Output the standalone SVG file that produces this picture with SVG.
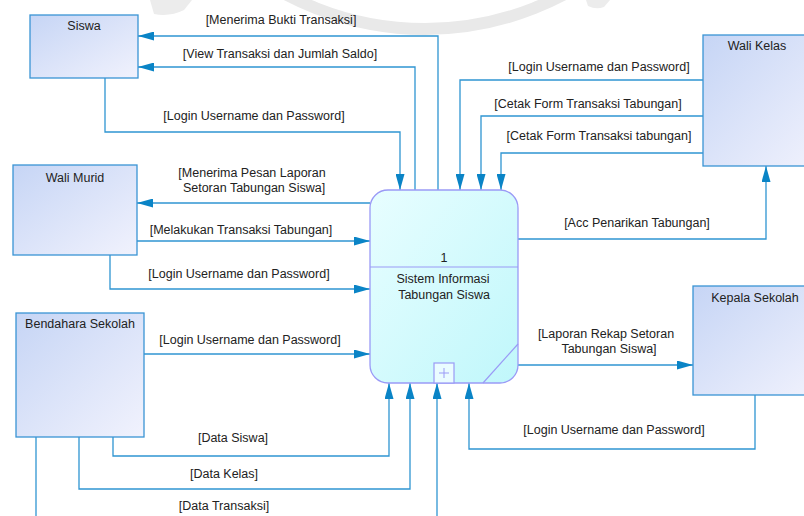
<svg xmlns="http://www.w3.org/2000/svg" width="804" height="516" viewBox="0 0 804 516">
  <defs>
    <linearGradient id="entityFill" x1="0" y1="0" x2="1" y2="1">
      <stop offset="0" stop-color="#c6d5f5"/>
      <stop offset="1" stop-color="#f1f2fd"/>
    </linearGradient>
    <linearGradient id="processFill" x1="0" y1="0" x2="1" y2="1">
      <stop offset="0" stop-color="#e8feff"/>
      <stop offset="1" stop-color="#c0f7fb"/>
    </linearGradient>
    <marker id="arrow" markerUnits="userSpaceOnUse" markerWidth="16" markerHeight="9" refX="16" refY="4.5" orient="auto">
      <path d="M0,0 L16,4.5 L0,9 Z" fill="#0a84c6"/>
    </marker>
  </defs>
  <style>
    text { font-family: "Liberation Sans", Arial, sans-serif; font-size: 12.5px; fill: #222; }
    .entity { fill: url(#entityFill); stroke: #3a94d4; stroke-width: 1.3; }
    .process { fill: url(#processFill); stroke: #9a9af6; stroke-width: 1.3; }
    .flow { fill: none; stroke: #2f95d2; stroke-width: 1.3; }
    .arrowed { marker-end: url(#arrow); }
    .mid { text-anchor: middle; }
    .seal { fill: none; stroke: #e9e9e9; }
  </style>

  <rect width="804" height="516" fill="#ffffff"/>

  <!-- faint background seal -->
  <g id="seal">
    <circle class="seal" cx="425" cy="-267" r="296" stroke-width="12"/>
    <path d="M150,0 H192 L184,10 Q170,17 154,14 Z" fill="#ececec"/>
    <path d="M586,0 H610 L604,7 Q596,10 588,6 Z" fill="#ececec"/>
  </g>

  <!-- connectors -->
  <g id="connectors">
    <!-- Siswa -->
    <path class="flow arrowed" d="M438,190 V36 H138"/>
    <path class="flow arrowed" d="M415,190 V67 H138"/>
    <path class="flow arrowed" d="M105,78 V132 H400 V190"/>
    <text class="mid" x="281" y="24">[Menerima Bukti Transaksi]</text>
    <text class="mid" x="280" y="58">[View Transaksi dan Jumlah Saldo]</text>
    <text class="mid" x="254" y="120">[Login Username dan Password]</text>

    <!-- Wali Murid -->
    <path class="flow arrowed" d="M370,203 H137"/>
    <path class="flow arrowed" d="M137,241 H370"/>
    <path class="flow arrowed" d="M110,255 V289 H370"/>
    <text class="mid" x="252" y="177">[Menerima Pesan Laporan</text>
    <text class="mid" x="254" y="192">Setoran Tabungan Siswa]</text>
    <text class="mid" x="241" y="234">[Melakukan Transaksi Tabungan]</text>
    <text class="mid" x="239" y="278">[Login Username dan Password]</text>

    <!-- Bendahara Sekolah -->
    <path class="flow arrowed" d="M144,354 H370"/>
    <path class="flow arrowed" d="M113,437 V456 H389 V383"/>
    <path class="flow arrowed" d="M79,437 V489 H410 V383"/>
    <path class="flow" d="M36,437 V520"/>
    <path class="flow arrowed" d="M437,520 V383"/>
    <text class="mid" x="250" y="344">[Login Username dan Password]</text>
    <text class="mid" x="233" y="442">[Data Siswa]</text>
    <text class="mid" x="224" y="478">[Data Kelas]</text>
    <text class="mid" x="224" y="510">[Data Transaksi]</text>

    <!-- Wali Kelas -->
    <path class="flow arrowed" d="M703,80 H460 V190"/>
    <path class="flow arrowed" d="M703,116 H481 V190"/>
    <path class="flow arrowed" d="M703,153 H501 V190"/>
    <path class="flow arrowed" d="M518,239 H766 V166"/>
    <text class="mid" x="599" y="71">[Login Username dan Password]</text>
    <text class="mid" x="588" y="108">[Cetak Form Transaksi Tabungan]</text>
    <text class="mid" x="599" y="140">[Cetak Form Transaksi tabungan]</text>
    <text class="mid" x="637" y="227">[Acc Penarikan Tabungan]</text>

    <!-- Kepala Sekolah -->
    <path class="flow arrowed" d="M518,365 H693"/>
    <path class="flow arrowed" d="M755,395 V449 H469 V383"/>
    <text class="mid" x="606" y="338">[Laporan Rekap Setoran</text>
    <text class="mid" x="609" y="353">Tabungan Siswa]</text>
    <text class="mid" x="614" y="434">[Login Username dan Password]</text>
  </g>

  <!-- external entities -->
  <g id="siswa">
    <rect class="entity" x="30" y="15" width="108" height="63"/>
    <text class="mid" x="84" y="30">Siswa</text>
  </g>
  <g id="wali-murid">
    <rect class="entity" x="13" y="165" width="124" height="90"/>
    <text class="mid" x="75" y="182">Wali Murid</text>
  </g>
  <g id="bendahara-sekolah">
    <rect class="entity" x="16" y="313" width="128" height="124"/>
    <text class="mid" x="80" y="328">Bendahara Sekolah</text>
  </g>
  <g id="wali-kelas">
    <rect class="entity" x="703" y="35" width="120" height="131"/>
    <text class="mid" x="757" y="50">Wali Kelas</text>
  </g>
  <g id="kepala-sekolah">
    <rect class="entity" x="693" y="286" width="130" height="109"/>
    <text class="mid" x="755" y="302">Kepala Sekolah</text>
  </g>

  <!-- process 1 -->
  <g id="process-1">
    <rect class="process" x="370" y="190" width="148" height="193" rx="18" ry="18"/>
    <line x1="370" y1="267" x2="518" y2="267" stroke="#9a9af6" stroke-width="1.2"/>
    <line x1="483" y1="383" x2="518" y2="344" stroke="#9a9af6" stroke-width="1.2"/>
    <rect x="434" y="363" width="20" height="20" fill="#eafcff" stroke="#9a9af6" stroke-width="1.2"/>
    <path d="M439,373 H449 M444,368 V378" stroke="#9a9af6" stroke-width="1"/>
    <text class="mid" x="444" y="262">1</text>
    <text class="mid" x="443" y="283">Sistem Informasi</text>
    <text class="mid" x="444" y="299">Tabungan Siswa</text>
  </g>
</svg>
